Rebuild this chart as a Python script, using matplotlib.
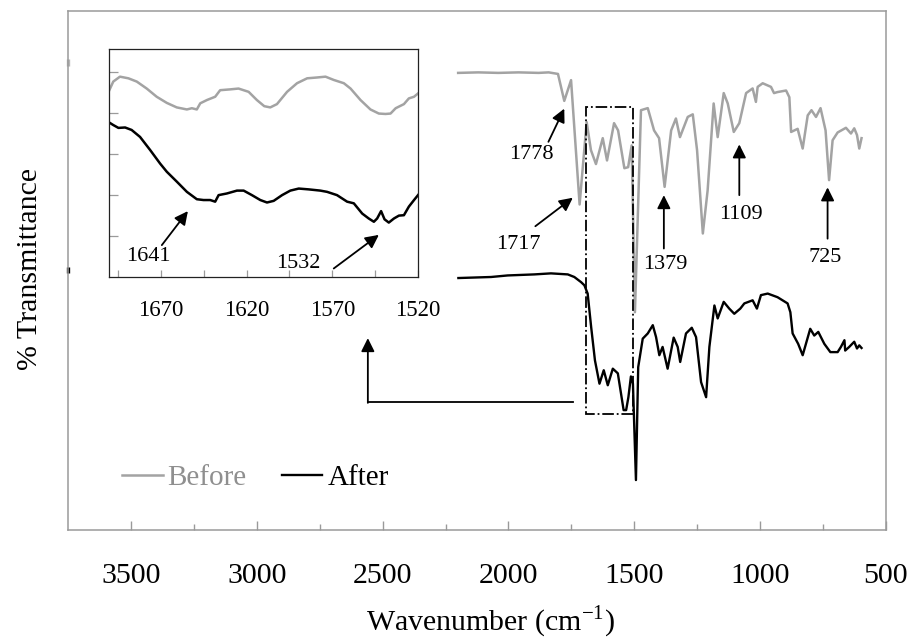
import numpy as np
import matplotlib
matplotlib.use("Agg")
import matplotlib.pyplot as plt
from matplotlib.patches import Rectangle
from matplotlib.ticker import FixedLocator

plt.rcParams["font.family"] = ["Liberation Serif", "DejaVu Serif"]
plt.rcParams["mathtext.fontset"] = "custom"
plt.rcParams["mathtext.rm"] = "Liberation Serif"

# FTIR spectra, wavenumber (cm-1) vs % transmittance (arbitrary offset)
before_wn = [2200, 2120, 2040, 1960, 1880, 1840, 1803, 1778, 1751, 1717, 1689,
             1672, 1652, 1625, 1608, 1580, 1564, 1539, 1524, 1510, 1497, 1473,
             1446, 1421, 1401, 1379, 1353, 1334, 1318, 1287, 1267, 1250, 1227,
             1208, 1184, 1168, 1144, 1128, 1104, 1082, 1055, 1029, 1016, 1009,
             989, 956, 944, 930, 896, 883, 876, 850, 830, 810, 795, 777, 759,
             739, 725, 711, 691, 658, 638, 625, 614, 605, 596]
before_t = [88.3, 88.4, 88.3, 88.4, 88.3, 88.4, 88.1, 82.9, 86.9, 62.9, 78.8,
            73.4, 70.7, 75.7, 71.4, 78.6, 77.2, 69.9, 70.1, 74.3, 42.1, 81.1,
            81.5, 77.2, 75.7, 66.3, 77.2, 79.5, 75.9, 79.8, 80.3, 73.4, 57.3,
            65.6, 82.4, 75.9, 84.4, 82.4, 76.9, 78.6, 84.4, 85.3, 82.7, 85.6,
            86.3, 85.6, 84.4, 84.6, 84.9, 83.6, 76.9, 77.5, 73.7, 80.1, 81.1,
            79.8, 81.5, 77.2, 67.6, 75.3, 76.8, 77.7, 76.6, 77.6, 76.3, 73.7,
            75.7]

after_wn = [2199, 2069, 2003, 1897, 1831, 1764, 1738, 1711, 1698, 1685, 1671,
            1656, 1638, 1621, 1605, 1585, 1565, 1542, 1532, 1523, 1513, 1505,
            1493, 1484, 1466, 1446, 1426, 1413, 1400, 1387, 1367, 1343, 1327,
            1317, 1294, 1271, 1254, 1234, 1214, 1201, 1181, 1168, 1144, 1122,
            1102, 1078, 1062, 1029, 1012, 996, 969, 930, 890, 879, 870, 848,
            830, 800, 784, 768, 744, 720, 691, 678, 664, 661, 645, 625, 614,
            605, 596]
after_t = [48.7, 48.9, 49.2, 49.4, 49.6, 49.4, 48.9, 47.9, 47.3, 45.7, 39.2,
           32.8, 28.3, 30.9, 28.0, 31.2, 30.3, 23.2, 23.2, 25.7, 29.7, 28.3,
           9.7, 31.5, 37.0, 38.0, 39.6, 37.3, 33.8, 35.4, 31.2, 37.2, 35.4,
           32.5, 38.0, 39.1, 37.3, 28.6, 25.7, 35.4, 43.4, 40.9, 44.1, 42.8,
           41.8, 42.8, 43.8, 44.4, 42.8, 45.4, 45.7, 45.0, 43.8, 42.1, 38.0,
           36.0, 33.8, 38.9, 37.6, 38.3, 36.0, 34.4, 34.4, 35.4, 36.7, 34.7,
           35.4, 36.4, 35.1, 35.7, 35.2]

# expanded view of the 1700-1520 cm-1 region
zoom_before_wn = [1700, 1697.7, 1693.8, 1688.9, 1684, 1678.2, 1672.4, 1666.5,
                  1660.7, 1654.8, 1651.9, 1649, 1647, 1643.1, 1638.3, 1635.4,
                  1629.5, 1624.7, 1618.8, 1614, 1609.7, 1606.2, 1602.3, 1596.4,
                  1590.6, 1584.7, 1578.9, 1574, 1569.2, 1563.3, 1559.4, 1553.6,
                  1547.8, 1542.9, 1539, 1536.1, 1533.1, 1528.3, 1525.4, 1522.4,
                  1519.5]
zoom_before_t = [4.55, 4.76, 4.88, 4.84, 4.76, 4.59, 4.39, 4.24, 4.13, 4.08,
                 4.11, 4.08, 4.23, 4.31, 4.39, 4.55, 4.57, 4.59, 4.51, 4.31,
                 4.16, 4.13, 4.21, 4.51, 4.72, 4.84, 4.86, 4.88, 4.80, 4.72,
                 4.59, 4.31, 4.08, 3.98, 3.97, 3.98, 4.11, 4.21, 4.35, 4.39,
                 4.49]
zoom_after_wn = [1700, 1697.7, 1694.7, 1690.8, 1687, 1682.1, 1676.2, 1670.4,
                 1666.5, 1660.7, 1654.8, 1649, 1645.1, 1641.2, 1638.3, 1636.3,
                 1631.5, 1625.6, 1621.7, 1616.9, 1612, 1608.1, 1604.2, 1599.3,
                 1594.5, 1589.6, 1583.8, 1577, 1573.1, 1567.3, 1561.4, 1557.5,
                 1552.6, 1548.8, 1545.8, 1543.9, 1541.6, 1539.6, 1537.1,
                 1534.1, 1531.2, 1528.3, 1525.4, 1522.4, 1519.5]
zoom_after_t = [3.76, 3.70, 3.63, 3.64, 3.58, 3.41, 3.09, 2.76, 2.56, 2.32,
                2.07, 1.89, 1.87, 1.87, 1.83, 1.99, 2.03, 2.10, 2.10, 1.99,
                1.87, 1.81, 1.85, 1.99, 2.10, 2.15, 2.13, 2.10, 2.07, 1.99,
                1.83, 1.79, 1.54, 1.42, 1.34, 1.42, 1.60, 1.40, 1.32, 1.42,
                1.49, 1.50, 1.71, 1.87, 2.02]

# peak labels: text, text position, arrow tail, arrow tip
peak_labels = ["1778", "1717", "1379", "1109", "725"]
peak_text_xy = [(1908, 72.6), (1960, 55.2), (1377, 51.4), (1076, 61.0), (740, 52.6)]
peak_tail_xy = [(1841, 75.0), (1893, 58.7), (1382, 54.4), (1082, 64.7), (731, 56.3)]
peak_tip_xy = [(1778, 81.4), (1744, 64.2), (1382, 64.7), (1082, 74.5), (731, 66.2)]

zoom_labels = ["1641", "1532"]
zoom_text_xy = [(1677.2, 0.49), (1589.6, 0.33)]
zoom_tail_xy = [(1669.4, 0.77), (1569.2, 0.20)]
zoom_tip_xy = [(1654.2, 1.60), (1542.9, 1.02)]

GREY = "#a3a3a3"
FRAME = "#9a9a9a"

fig = plt.figure(figsize=(9.11, 6.39), dpi=100)
ax = fig.add_axes([0.075, 0.1701, 0.8972, 0.8131])

ax.plot(before_wn, before_t, color=GREY, lw=1.8, label="Before")
ax.plot(after_wn, after_t, color="black", lw=1.7, label="After")

ax.set_xlim(3750, 500)
ax.set_ylim(0, 100.3)
ax.set_yticks([])
ax.xaxis.set_major_locator(FixedLocator([3500, 3000, 2500, 2000, 1500, 1000, 500]))
ax.xaxis.set_minor_locator(FixedLocator([3250, 2750, 2250, 1750, 1250, 750]))
ax.tick_params(axis="x", which="major", direction="in", length=6.5, width=1,
               color=FRAME, labelsize=21.5, pad=23.5)
ax.tick_params(axis="x", which="minor", direction="in", length=4.3, width=1,
               color=FRAME)
for sp in ax.spines.values():
    sp.set_color(FRAME)
    sp.set_linewidth(1.1)

ax.set_xlabel(r"Wavenumber (cm$^{-1}$)", fontsize=21.5)
ax.xaxis.set_label_coords(0.516, -0.142)
ax.set_ylabel("% Transmittance", fontsize=21.5)
ax.yaxis.set_label_coords(-0.031, 0.503)

# leftover marks on the hidden y axis
ax.plot([3750, 3750], [89.6, 90.9], color="#b5b5b5", lw=2.4, clip_on=False,
        solid_capstyle="butt")
ax.plot([3750, 3750], [49.6, 50.8], color="black", lw=2.4, clip_on=False,
        solid_capstyle="butt")

arrow_kw = dict(arrowstyle="-|>", color="black", lw=1.3, mutation_scale=20,
                shrinkA=0, shrinkB=0)
for lab, txy, tail, tip in zip(peak_labels, peak_text_xy, peak_tail_xy, peak_tip_xy):
    ax.annotate("", xy=tip, xytext=tail, arrowprops=arrow_kw)
    ax.text(txy[0], txy[1], lab, fontsize=16, ha="center", va="center")

# box around the expanded region and connector to the inset
ax.add_patch(Rectangle((1505, 22.4), 1691 - 1505, 81.7 - 22.4, fill=False,
                       ls="-.", lw=1.3, ec="black", zorder=3))
ax.plot([1742, 2559], [24.8, 24.8], color="black", lw=1.3)
ax.annotate("", xy=(2559, 37.1), xytext=(2559, 24.6), arrowprops=arrow_kw)

leg = ax.legend(loc="center left", bbox_to_anchor=(0.0653, 0.101), ncol=2,
                frameon=False, fontsize=21, handlelength=1.4, handletextpad=0.17,
                columnspacing=1.2, borderpad=0, borderaxespad=0)
leg.get_texts()[0].set_color("#8f8f8f")

# inset
ins = fig.add_axes([0.120, 0.567, 0.339, 0.356])
ins.plot(zoom_before_wn, zoom_before_t, color=GREY, lw=1.8)
ins.plot(zoom_after_wn, zoom_after_t, color="black", lw=1.8)
ins.set_xlim(1700, 1520)
ins.set_ylim(0, 5.55)
ins.xaxis.set_major_locator(FixedLocator([1670, 1620, 1570, 1520]))
ins.xaxis.set_minor_locator(FixedLocator([1695, 1645, 1595, 1545]))
ins.yaxis.set_major_locator(FixedLocator([1, 2, 3, 4, 5]))
ins.set_yticklabels([])
ins.tick_params(axis="x", which="both", direction="in", length=5, width=0.9,
                color=FRAME, labelsize=16.5, pad=17)
ins.tick_params(axis="y", direction="in", length=6.5, width=0.9, color=FRAME)
for sp in ins.spines.values():
    sp.set_color("#222222")
    sp.set_linewidth(0.9)

for lab, txy, tail, tip in zip(zoom_labels, zoom_text_xy, zoom_tail_xy, zoom_tip_xy):
    ins.annotate("", xy=tip, xytext=tail, arrowprops=arrow_kw)
    ins.text(txy[0], txy[1], lab, fontsize=16, ha="center", va="center")

fig.savefig("out.png", dpi=100)
